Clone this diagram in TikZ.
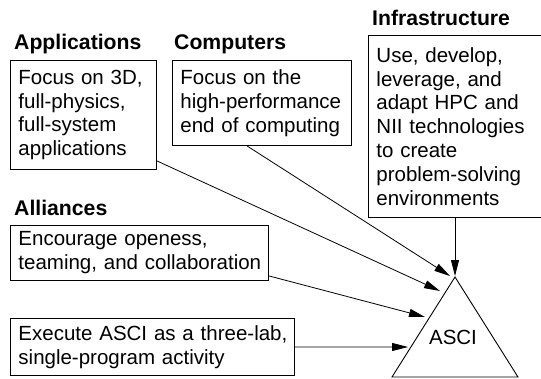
\documentclass[tikz,border=0pt]{standalone}
\usepackage{fontspec}
\setmainfont{Liberation Sans}
\usetikzlibrary{arrows.meta}
\newcommand{\boxline}[1]{\mbox{#1}}
\begin{document}
\begin{tikzpicture}[x=1pt,y=-1pt,
  box/.style={draw, line width=0.9pt, anchor=north west, inner xsep=8pt, inner ysep=0pt,
    align=left, font=\fontsize{20.5}{23.8}\selectfont},
  head/.style={anchor=base west, inner sep=0pt, font=\fontsize{21.2}{24}\selectfont\bfseries},
  arr/.style={line width=0.8pt, -{Triangle[length=16pt,width=8pt]}}]
\clip (0,0) rectangle (541,378);
\fill[white] (0,0) rectangle (541,378);
% headings
\node[head] (happ) at (14,49) {Applications};
\node[head] (hcomp) at (174,49) {Computers};
\node[head] (hinf) at (372,25) {Infrastructure};
\node[head] (hall) at (14,215) {Alliances};
% boxes
\node[box, minimum width=146pt, minimum height=109pt, text width=130pt] (app) at (10,60)
  {\boxline{Focus on 3D,}\\\boxline{full-physics,}\\\boxline{full-system}\\\boxline{applications}};
\node[box, minimum width=179pt, minimum height=85pt, text width=163pt] (comp) at (172,60)
  {\boxline{Focus on the}\\\boxline{high-performance}\\\boxline{end of computing}};
\node[box, minimum width=182pt, minimum height=182pt, text width=166pt] (inf) at (368,35)
  {\boxline{Use, develop,}\\\boxline{leverage, and}\\\boxline{adapt HPC and}\\\boxline{NII technologies}\\\boxline{to create}\\\boxline{problem-solving}\\\boxline{environments}};
\node[box, minimum width=258pt, minimum height=55pt, text width=242pt] (all) at (10,225)
  {\boxline{Encourage openess,}\\\boxline{teaming, and collaboration}};
\node[box, minimum width=284pt, minimum height=57pt, text width=268pt] (exe) at (10,318)
  {\boxline{Execute ASCI as a three-lab,}\\\boxline{single-program activity}};
% triangle
\coordinate (apex) at (455,277);
\coordinate (bl) at (392,377);
\coordinate (br) at (518,377);
\draw[line width=0.9pt, line join=miter] (apex) -- (bl) -- (br) -- cycle;
\node[font=\fontsize{20.5}{23.8}\selectfont, inner sep=0pt] (asci) at (453,337) {ASCI};
% arrow targets
\coordinate (tinf) at (455,276);
\coordinate (tcomp) at (450,276);
\coordinate (tapp) at (440,291);
\coordinate (tall) at (425,317);
\coordinate (texe) at (408,347);
% arrows
\draw[arr] ([xshift=87pt]inf.south west) -- (tinf);
\draw[arr] ([xshift=75pt]comp.south west) -- (tcomp);
\draw[arr] ([yshift=9pt]app.south east) -- (tapp);
\draw[arr] ([yshift=5pt]all.south east) -- (tall);
\draw[arr] (exe.east) -- (texe);
\end{tikzpicture}
\end{document}
